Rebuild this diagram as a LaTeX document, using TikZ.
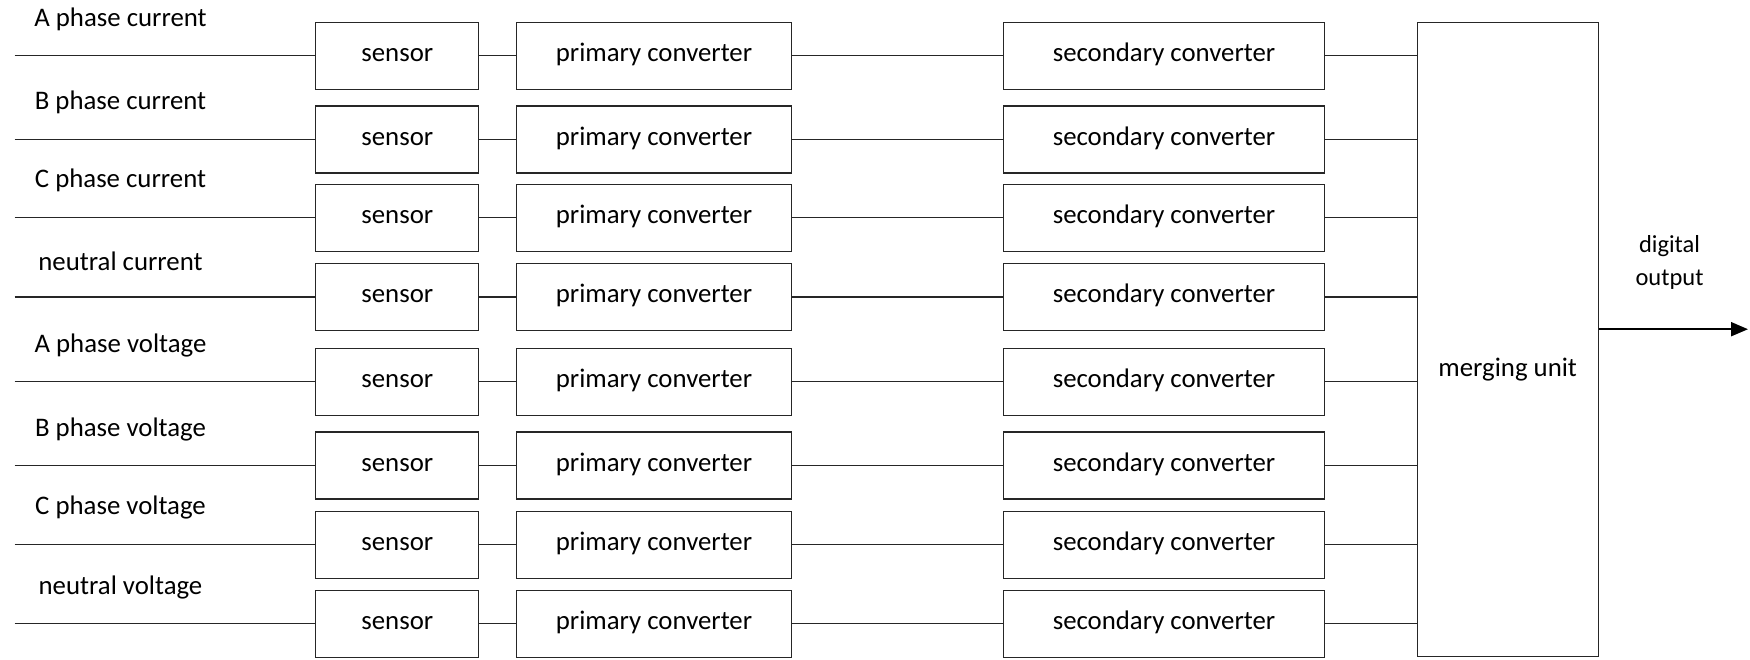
\documentclass[tikz,border=0pt]{standalone}
\usepackage{fontspec}
\setmainfont{Carlito}
\usetikzlibrary{arrows.meta}
\begin{document}
\begin{tikzpicture}[x=1pt,y=-1pt,
  box/.style={draw=black!85, line width=1.2pt, inner sep=0pt, text height=17pt, text depth=5pt, font=\fontsize{26.8}{32}\selectfont},
  sensorbox/.style={box, minimum width=163pt, minimum height=67pt},
  primbox/.style={box, minimum width=274.5pt, minimum height=67pt},
  secbox/.style={box, minimum width=321.4pt, minimum height=67pt},
  lbl/.style={font=\fontsize{26.8}{32}\selectfont, inner sep=0pt},
  wire/.style={draw=black!85, line width=1.2pt}]
\useasboundingbox (0,0) rectangle (1750,659);
\node[draw=black!85, line width=1.2pt, inner sep=0pt, minimum width=180.8pt, minimum height=634pt] (mu) at (1507.7,339.3) {};
\node[lbl] (mutext) at (1507.7,369.4) {merging unit};
\foreach \i/\y/\ly/\t in {1/55.8/19.5/A phase current,
                          2/139.5/102.5/B phase current,
                          3/217.6/180.5/C phase current,
                          4/296.9/261/neutral current,
                          5/381.7/345.5/A phase voltage,
                          6/465.4/429.5/B phase voltage,
                          7/544.6/507.5/C phase voltage,
                          8/623.8/587/neutral voltage} {
  \node[sensorbox] (s\i) at (397.3,\y) {sensor};
  \node[primbox] (p\i) at (654,\y) {primary converter};
  \node[secbox] (c\i) at (1164,\y) {secondary converter};
  \coordinate (in\i) at (14.5,\y);
  \node[lbl] (l\i) at (120.5,\ly) {\t};
  \draw[wire] (in\i) -- (s\i);
  \draw[wire] (s\i) -- (p\i);
  \draw[wire] (p\i) -- (c\i);
  \draw[wire] (c\i.east) -- (c\i.east -| mu.west);
}
\coordinate (out) at (1748,329.2);
\draw[line width=2pt, -{Triangle[length=17pt,width=14pt]}] (mu.east |- out) -- (out);
\node[font=\fontsize{24.5}{33.5}\selectfont, align=center, inner sep=0pt] (dout) at (1669.5,262.5) {digital\\output};
\end{tikzpicture}
\end{document}
